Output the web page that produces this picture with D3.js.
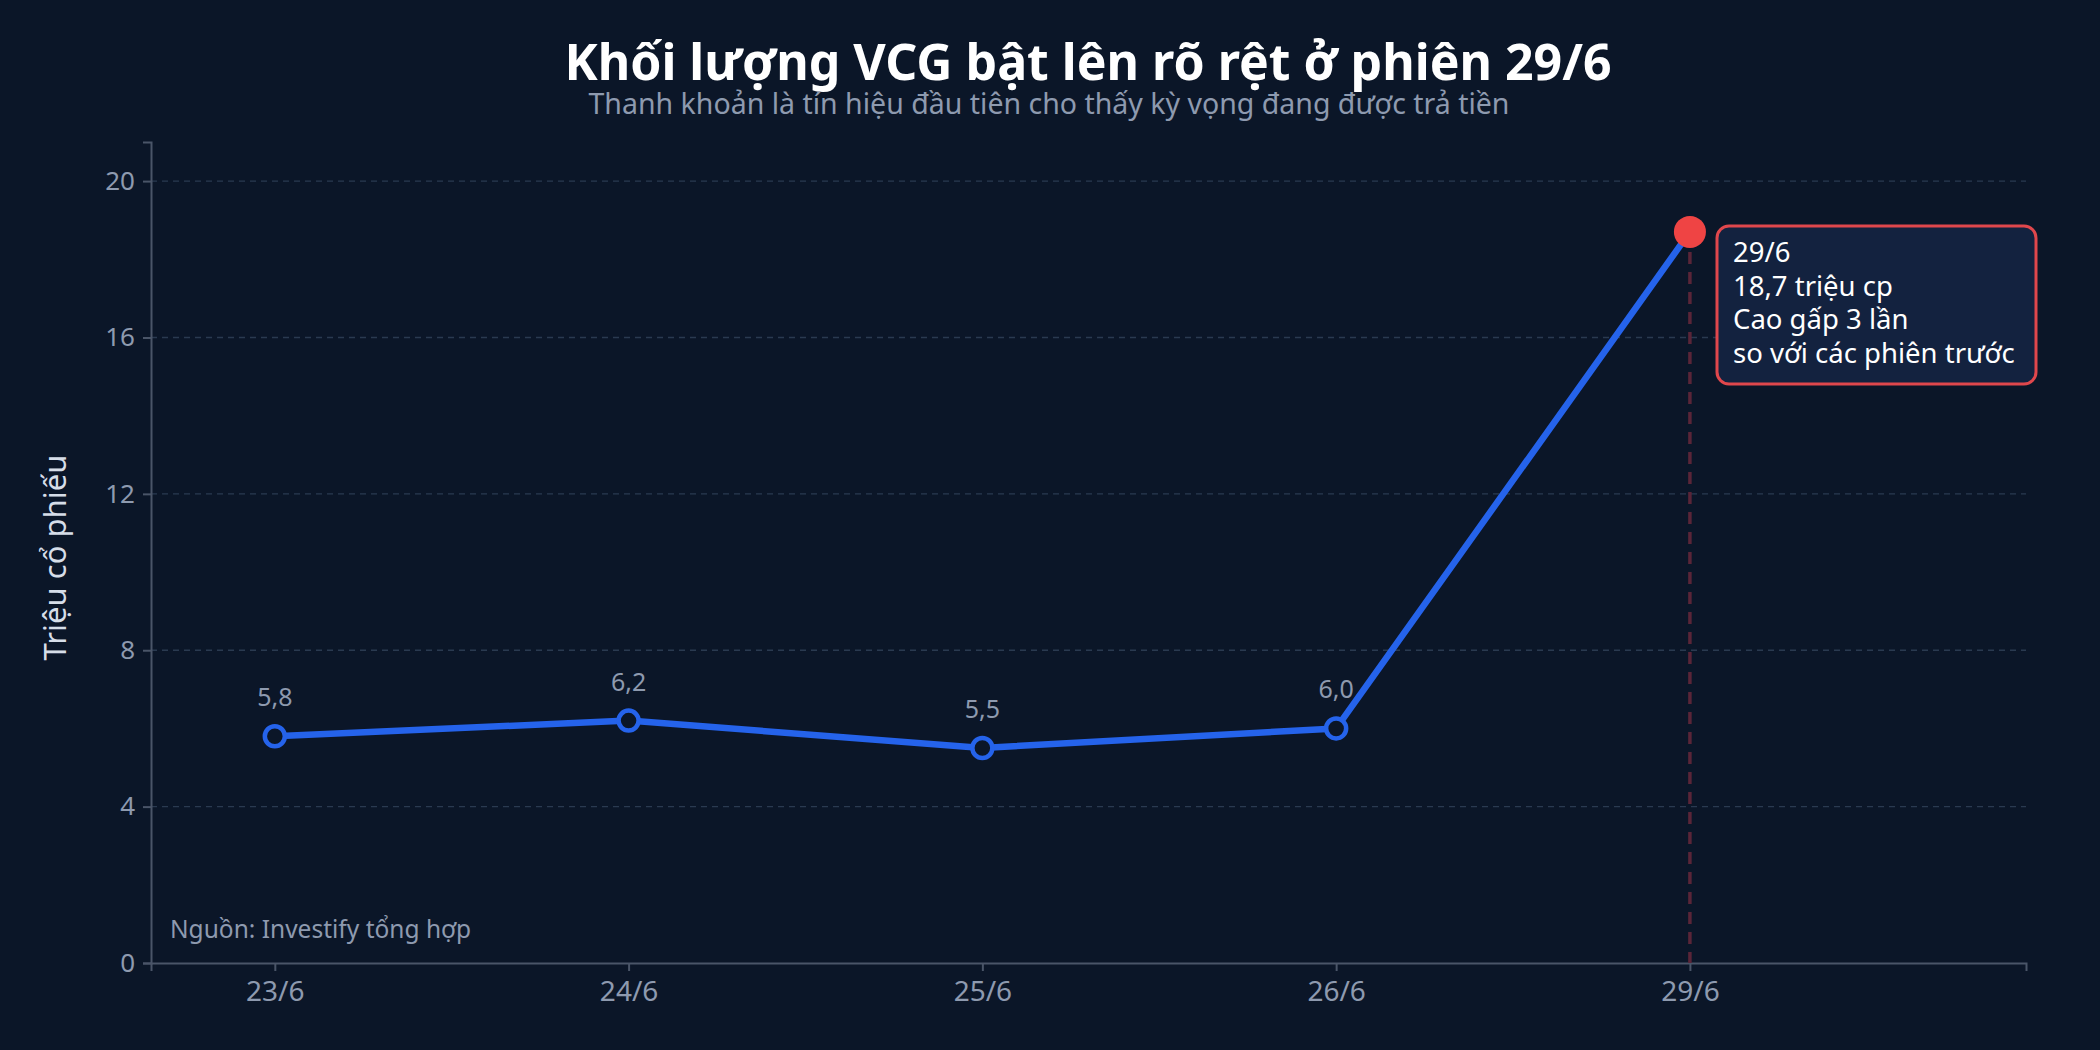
<!DOCTYPE html>
<html><head><meta charset="utf-8">
<script src="https://cdn.jsdelivr.net/npm/d3@7"></script>
<style>body{margin:0;background:#0b1628}svg{display:block}</style></head>
<body><svg id="c" width="2100" height="1050"></svg>
<script>
const categories=["23/6","24/6","25/6","26/6","29/6"];
const volumes=[5.8,6.2,5.5,6.0,18.7];
const labels=["5,8","6,2","5,5","6,0",""];
const yTicks=[0,4,8,12,16,20];
const noteLines=["29/6","18,7 triệu cp","Cao gấp 3 lần","so với các phiên trước"];

const svg=d3.select("#c"),F="Noto Sans, DejaVu Sans, sans-serif";
svg.append("rect").attr("width",2100).attr("height",1050).attr("fill","#0b1628");
const L=151,R=2026,B=963,T=142;
const x=d3.scaleLinear().domain([-0.35,4.95]).range([L,R]);
const y=d3.scaleLinear().domain([0,21]).range([B,T]);

svg.append("g").selectAll("line").data(yTicks.slice(1)).join("line")
 .attr("x1",L).attr("x2",R).attr("y1",d=>y(d)).attr("y2",d=>y(d))
 .attr("stroke","#2a3a50").attr("stroke-width",1.3).attr("stroke-dasharray","6,5");

const ya=svg.append("g").attr("transform",`translate(${L},0)`).call(d3.axisLeft(y).tickValues(yTicks).tickSize(8).tickPadding(8));
const xa=svg.append("g").attr("transform",`translate(0,${B})`).call(d3.axisBottom(x).tickValues(d3.range(categories.length)).tickFormat(i=>categories[i]).tickSize(8).tickPadding(10));
[ya,xa].forEach(a=>{a.select(".domain").attr("stroke","#4a5568").attr("stroke-width",2);a.selectAll(".tick line").attr("stroke","#4a5568").attr("stroke-width",2);a.selectAll("text").attr("fill","#8e9aaf").attr("font-family",F).attr("font-size",26);});
xa.selectAll("text").attr("font-size",28);

svg.append("text").attr("transform",`translate(66,${(T+B)/2+5}) rotate(-90)`).attr("text-anchor","middle").attr("fill","#d6dde8").attr("font-family",F).attr("font-size",31).text("Triệu cổ phiếu");

const last=categories.length-1;
svg.append("line").attr("x1",x(last)).attr("x2",x(last)).attr("y1",y(volumes[last])).attr("y2",B)
 .attr("stroke","#5a2538").attr("stroke-width",3.5).attr("stroke-dasharray","12,8");

svg.append("path").datum(volumes).attr("fill","none").attr("stroke","#2563eb").attr("stroke-width",6.5).attr("stroke-linejoin","round")
 .attr("d",d3.line().x((d,i)=>x(i)).y(d=>y(d)));

svg.append("g").selectAll("circle").data(volumes.slice(0,last)).join("circle")
 .attr("cx",(d,i)=>x(i)).attr("cy",d=>y(d)).attr("r",10).attr("fill","#0b1628").attr("stroke","#2563eb").attr("stroke-width",4.5);
svg.append("circle").attr("cx",x(last)).attr("cy",y(volumes[last])).attr("r",16).attr("fill","#ef4444");

svg.append("g").selectAll("text").data(volumes.slice(0,last)).join("text")
 .attr("x",(d,i)=>x(i)).attr("y",d=>y(d)-30).attr("text-anchor","middle").attr("fill","#8e9aaf").attr("font-family",F).attr("font-size",25)
 .text((d,i)=>labels[i]);

svg.append("rect").attr("x",1717).attr("y",226).attr("width",319).attr("height",158).attr("rx",12)
 .attr("fill","#13223f").attr("stroke","#e0474c").attr("stroke-width",3);
svg.append("g").selectAll("text").data(noteLines).join("text").attr("x",1733).attr("y",(d,i)=>262+i*33.5)
 .attr("fill","#ffffff").attr("font-family",F).attr("font-size",27.5).text(d=>d);

svg.append("text").attr("x",1088).attr("y",80).attr("text-anchor","middle").attr("fill","#ffffff").attr("font-family",F).attr("font-weight","bold").attr("font-size",50).text("Khối lượng VCG bật lên rõ rệt ở phiên 29/6");
svg.append("text").attr("x",1049).attr("y",114).attr("text-anchor","middle").attr("fill","#8e9aaf").attr("font-family",F).attr("font-size",28.5).text("Thanh khoản là tín hiệu đầu tiên cho thấy kỳ vọng đang được trả tiền");
svg.append("text").attr("x",170).attr("y",938).attr("fill","#8e9aaf").attr("font-family",F).attr("font-size",24.5).text("Nguồn: Investify tổng hợp");
</script></body></html>
